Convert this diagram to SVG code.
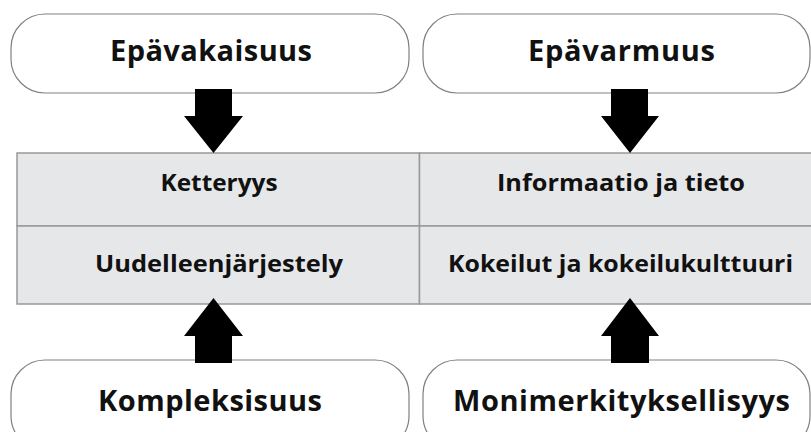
<svg xmlns="http://www.w3.org/2000/svg" width="811" height="432" viewBox="0 0 811 432">
  <style>
    .pill { fill: #ffffff; stroke: #808080; stroke-width: 1.2; }
    .cell { fill: #e6e7e9; stroke: #999999; stroke-width: 1.5; }
    .big { font-family: "Open Sans", "Liberation Sans", sans-serif; font-weight: 700; font-size: 29px; fill: #111111; text-anchor: middle; }
    .mid { font-family: "Open Sans", "Liberation Sans", sans-serif; font-weight: 700; font-size: 23px; fill: #111111; text-anchor: middle; }
    .arrow { fill: #000000; stroke: none; }
  </style>
  <rect width="811" height="432" fill="#ffffff"/>

  <g id="table">
    <rect class="cell" x="17" y="153" width="402.5" height="73"/>
    <rect class="cell" x="419.5" y="153" width="400" height="73"/>
    <rect class="cell" x="17" y="226" width="402.5" height="78"/>
    <rect class="cell" x="419.5" y="226" width="400" height="78"/>
  </g>

  <g id="cell-ketteryys">
    <text class="mid" x="219" y="191" textLength="117" lengthAdjust="spacingAndGlyphs">Ketteryys</text>
  </g>
  <g id="cell-informaatio">
    <text class="mid" x="621" y="191" textLength="248" lengthAdjust="spacingAndGlyphs">Informaatio ja tieto</text>
  </g>
  <g id="cell-uudelleenjarjestely">
    <text class="mid" x="219" y="272" textLength="248" lengthAdjust="spacingAndGlyphs">Uudelleenjärjestely</text>
  </g>
  <g id="cell-kokeilut">
    <text class="mid" x="620.5" y="272" textLength="345" lengthAdjust="spacingAndGlyphs">Kokeilut ja kokeilukulttuuri</text>
  </g>

  <g id="node-epavakaisuus">
    <rect class="pill" x="11" y="14" width="398" height="79" rx="34" ry="34"/>
    <text class="big" x="211" y="61" textLength="202">Epävakaisuus</text>
  </g>
  <g id="node-epavarmuus">
    <rect class="pill" x="423" y="14" width="387" height="79" rx="34" ry="34"/>
    <text class="big" x="621.5" y="61" textLength="187">Epävarmuus</text>
  </g>
  <g id="node-kompleksisuus">
    <rect class="pill" x="11" y="360" width="398" height="90" rx="34" ry="34"/>
    <text class="big" x="210" y="411" textLength="224">Kompleksisuus</text>
  </g>
  <g id="node-monimerkityksellisyys">
    <rect class="pill" x="423" y="360" width="387" height="90" rx="34" ry="34"/>
    <text class="big" x="621.5" y="411" textLength="337">Monimerkityksellisyys</text>
  </g>

  <g id="connectors">
    <polygon class="arrow" points="195,89 232,89 232,116 243,116 213.5,153 184,116 195,116"/>
    <polygon class="arrow" points="611,89 648,89 648,116 659,116 630,153 601,116 611,116"/>
    <polygon class="arrow" points="195,363 232,363 232,336 243,336 213.5,298 184,336 195,336"/>
    <polygon class="arrow" points="611,363 649,363 649,336 659,336 630,298 601,336 611,336"/>
  </g>
</svg>
